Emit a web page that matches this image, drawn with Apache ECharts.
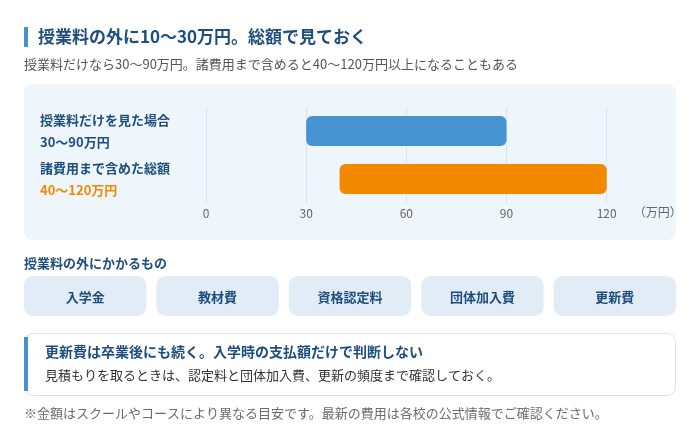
<!DOCTYPE html>
<html lang="ja">
<head>
<meta charset="utf-8">
<script src="https://cdn.jsdelivr.net/npm/echarts@6/dist/echarts.min.js"></script>
<style>
  html, body { margin: 0; padding: 0; background: #ffffff; }
  #main { width: 700px; height: 438px; }
</style>
</head>
<body>
<div id="main"></div>
<script>
// ---- data ----
const titleText = '授業料の外に10〜30万円。総額で見ておく';
const subtitleText = '授業料だけなら30〜90万円。諸費用まで含めると40〜120万円以上になることもある';
const categories = ['授業料だけを見た場合', '諸費用まで含めた総額'];
const rangeLabels = ['30〜90万円', '40〜120万円'];
const rangeStart = [30, 40];
const rangeEnd = [90, 120];
const xTicks = [0, 30, 60, 90, 120];
const unitLabel = '（万円）';
const extraHeading = '授業料の外にかかるもの';
const extraCosts = ['入学金', '教材費', '資格認定料', '団体加入費', '更新費'];
const noteTitle = '更新費は卒業後にも続く。入学時の支払額だけで判断しない';
const noteBody = '見積もりを取るときは、認定料と団体加入費、更新の頻度まで確認しておく。';
const footnote = '※金額はスクールやコースにより異なる目安です。最新の費用は各校の公式情報でご確認ください。';

// ---- style ----
const FONT = '"Noto Sans CJK JP", "Noto Sans", sans-serif';
const NAVY = '#1d4e7e';
const BLUE = '#4593d1';
const ORANGE = '#f28900';
const ACCENT = '#4a90d0';
const barColors = [BLUE, ORANGE];
const rangeColorKeys = ['b', 'o'];

const chart = echarts.init(document.getElementById('main'), null, { renderer: 'canvas' });

const graphics = [];
// title
graphics.push({ type: 'rect', z: 10, shape: { x: 24, y: 27, width: 4, height: 20 }, style: { fill: ACCENT } });
graphics.push({ type: 'text', z: 10, style: { text: titleText, x: 38, y: 37, verticalAlign: 'middle', fill: NAVY, font: 'bold 17px ' + FONT } });
graphics.push({ type: 'text', z: 10, style: { text: subtitleText, x: 24, y: 64, verticalAlign: 'middle', fill: '#555555', font: '13px ' + FONT } });
// chart panel
graphics.push({ type: 'rect', z: -10, shape: { x: 24, y: 84, width: 652, height: 156, r: 9 }, style: { fill: '#eef5fb' } });
// extra costs section
graphics.push({ type: 'text', z: 10, style: { text: extraHeading, x: 24, y: 263, verticalAlign: 'middle', fill: NAVY, font: 'bold 13px ' + FONT } });
const chipW = (652 - 4 * 10) / extraCosts.length;
extraCosts.forEach((name, i) => {
  const x = 24 + i * (chipW + 10);
  graphics.push({ type: 'rect', z: 10, shape: { x: x, y: 276, width: chipW, height: 40, r: 9 }, style: { fill: '#e1ecf6' } });
  graphics.push({ type: 'text', z: 11, style: { text: name, x: x + chipW / 2, y: 297, align: 'center', verticalAlign: 'middle', fill: NAVY, font: 'bold 13px ' + FONT } });
});
// note box
graphics.push({ type: 'rect', z: 10, shape: { x: 24.5, y: 333.5, width: 651, height: 62, r: 8 }, style: { fill: '#ffffff', stroke: '#d6e5f2', lineWidth: 1 } });
graphics.push({ type: 'rect', z: 11, shape: { x: 24, y: 337, width: 4, height: 54 }, style: { fill: ACCENT } });
graphics.push({ type: 'text', z: 11, style: { text: noteTitle, x: 45, y: 352, verticalAlign: 'middle', fill: NAVY, font: 'bold 14px ' + FONT } });
graphics.push({ type: 'text', z: 11, style: { text: noteBody, x: 45, y: 375, verticalAlign: 'middle', fill: '#333333', font: '13px ' + FONT } });
// footnote
graphics.push({ type: 'text', z: 10, style: { text: footnote, x: 24, y: 413, verticalAlign: 'middle', fill: '#6b6b6b', font: '13px ' + FONT } });

const option = {
  animation: false,
  backgroundColor: '#ffffff',
  textStyle: { fontFamily: FONT },
  graphic: { elements: graphics },
  grid: { left: 206, right: 93.3, top: 107, bottom: 235, containLabel: false },
  xAxis: {
    type: 'value',
    min: xTicks[0],
    max: xTicks[xTicks.length - 1],
    interval: xTicks[1] - xTicks[0],
    axisLine: { show: false },
    axisTick: { show: false },
    splitLine: { show: true, lineStyle: { color: '#d8e4ef', width: 1 } },
    axisLabel: { color: '#666666', fontSize: 12, margin: 4, fontFamily: FONT },
    name: unitLabel,
    nameLocation: 'end',
    nameGap: 27,
    nameTextStyle: { color: '#666666', fontSize: 12, verticalAlign: 'top', padding: [3, 0, 0, 0], fontFamily: FONT }
  },
  yAxis: {
    type: 'category',
    data: categories,
    inverse: true,
    axisLine: { show: false },
    axisTick: { show: false },
    splitLine: { show: false },
    axisLabel: {
      align: 'left',
      margin: 166,
      formatter: function (value, idx) {
        return '{n|' + value + '}\n{' + rangeColorKeys[idx] + '|' + rangeLabels[idx] + '}';
      },
      rich: {
        n: { color: NAVY, fontWeight: 'bold', fontSize: 13, lineHeight: 22, fontFamily: FONT },
        b: { color: NAVY, fontWeight: 'bold', fontSize: 13, lineHeight: 22, fontFamily: FONT },
        o: { color: ORANGE, fontWeight: 'bold', fontSize: 13, lineHeight: 22, fontFamily: FONT }
      }
    }
  },
  series: [
    {
      type: 'bar',
      stack: 'range',
      silent: true,
      barWidth: 30,
      itemStyle: { color: 'transparent' },
      data: rangeStart
    },
    {
      type: 'bar',
      stack: 'range',
      barWidth: 30,
      data: rangeEnd.map((v, i) => ({
        value: v - rangeStart[i],
        itemStyle: { color: barColors[i], borderRadius: 6 }
      }))
    }
  ]
};

chart.setOption(option);
</script>
</body>
</html>
